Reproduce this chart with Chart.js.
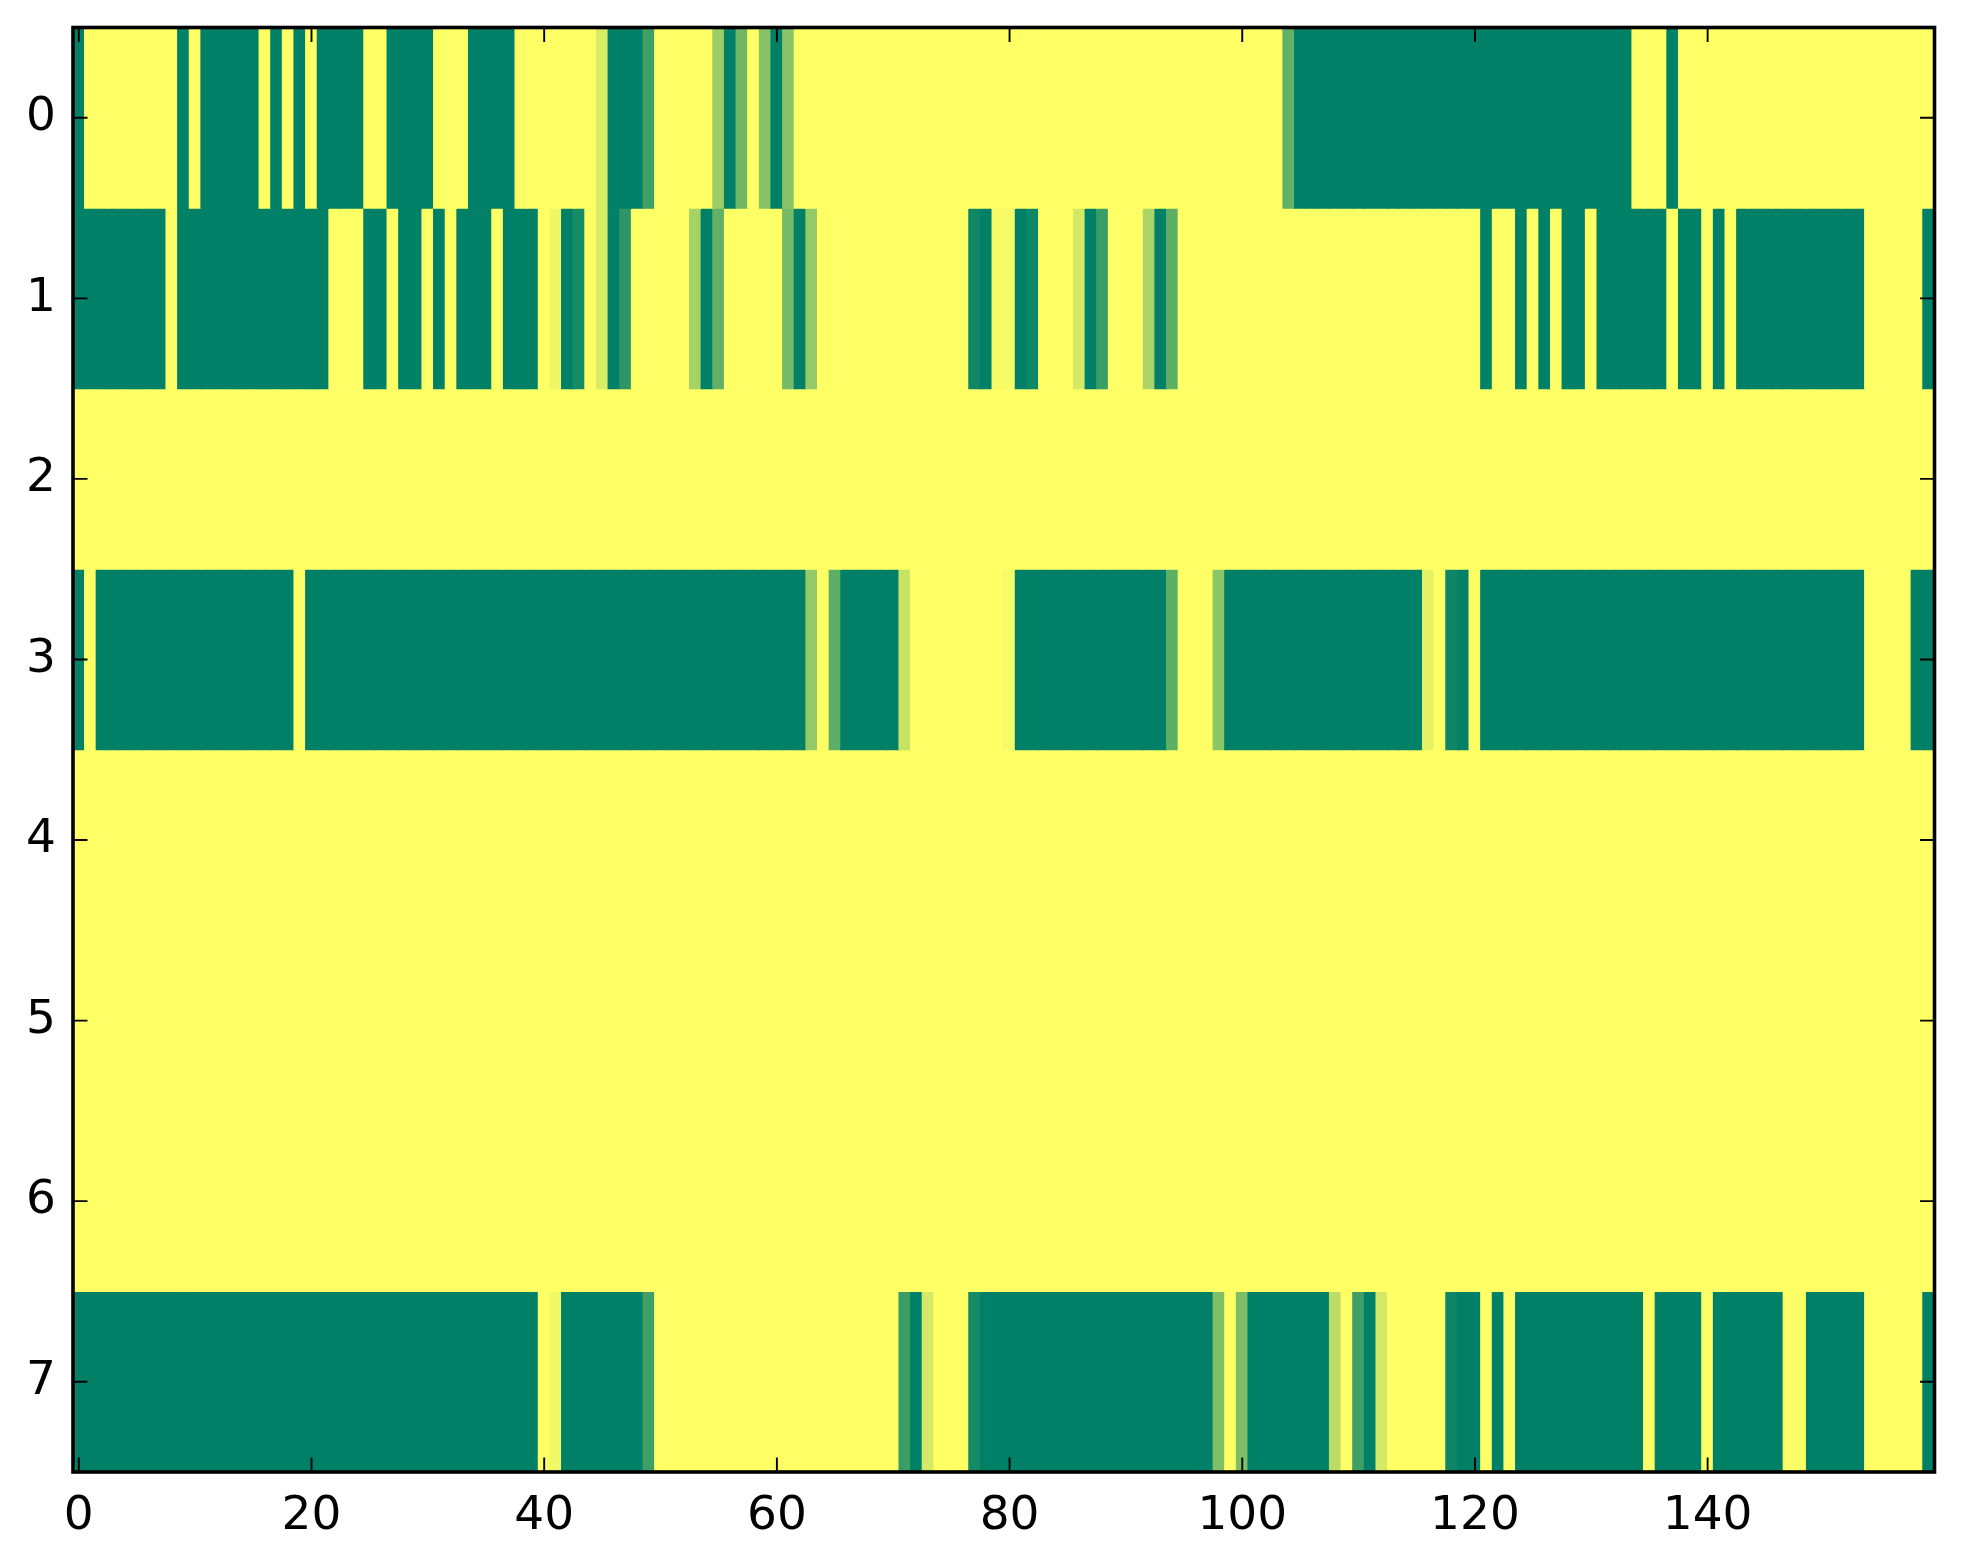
<!DOCTYPE html>
<html>
<head>
<meta charset="utf-8">
<script src="https://cdn.jsdelivr.net/npm/chart.js@4/dist/chart.umd.min.js"></script>
<style>
  html, body { margin: 0; padding: 0; background: #ffffff; }
  #wrap { width: 1963px; height: 1564px; position: relative; }
</style>
</head>
<body>
<div id="wrap"><canvas id="c" width="1963" height="1564"></canvas></div>
<script>
// Tick labels
const xTicks = [0, 20, 40, 60, 80, 100, 120, 140];
const yTicks = [0, 1, 2, 3, 4, 5, 6, 7];

// Cell values per row (0 = green, 1 = yellow), columns 0..159
const row0 = [
  0,1,1,1,1,1,1,1,1,0, 1,0,0,0,0,0,1,0,1,0,
  1,0,0,0,0,1,1,0,0,0, 0,1,1,1,0,0,0,0,1,1,
  1,1,1,1,1,0.85,0,0,0,0.25, 1,1,1,1,1,0.61,0,0.44,1,0.53,
  0,0.54,1,1,1,1,1,1,1,1, 1,1,1,1,1,1,1,1,1,1,
  1,1,1,1,1,1,1,1,1,1, 1,1,1,1,1,1,1,1,1,1,
  1,1,1,1,0.39,0,0,0,0,0, 0,0,0,0,0,0,0,0,0,0,
  0,0,0,0,0,0,0,0,0,0, 0,0,0,0,1,1,1,0,1,1,
  1,1,1,1,1,1,1,1,1,1, 1,1,1,1,1,1,1,1,1,1
];
const row1 = [
  0,0,0,0,0,0,0,0,1,0, 0,0,0,0,0,0,0,0,0,0,
  0,0,1,1,1,0,0,1,0,0, 1,0,1,0,0,0,1,0,0,0,
  1,0.94,0,0.09,1,0.85,0,0.18,1,1, 1,1,1,0.65,0,0.38,1,1,1,1,
  1,0.46,0,0.58,1,1,1,1,1,1, 1,1,1,1,1,1,1,0.06,0,0.97,
  0.97,0,0.06,1,1,1,0.83,0,0.23,1, 1,1,0.67,0,0.37,1,1,1,1,1,
  1,1,1,1,1,1,1,1,1,1, 1,1,1,1,1,1,1,1,1,1,
  1,0,1,1,0,1,0,1,0,0, 1,0,0,0,0,0,0,1,0,0,
  1,0,1,0,0,0,0,0,0,0, 0,0,0,0,1,1,1,1,1,0
];
const row2 = [
  1,1,1,1,1,1,1,1,1,1, 1,1,1,1,1,1,1,1,1,1,
  1,1,1,1,1,1,1,1,1,1, 1,1,1,1,1,1,1,1,1,1,
  1,1,1,1,1,1,1,1,1,1, 1,1,1,1,1,1,1,1,1,1,
  1,1,1,1,1,1,1,1,1,1, 1,1,1,1,1,1,1,1,1,1,
  1,1,1,1,1,1,1,1,1,1, 1,1,1,1,1,1,1,1,1,1,
  1,1,1,1,1,1,1,1,1,1, 1,1,1,1,1,1,1,1,1,1,
  1,1,1,1,1,1,1,1,1,1, 1,1,1,1,1,1,1,1,1,1,
  1,1,1,1,1,1,1,1,1,1, 1,1,1,1,1,1,1,1,1,1
];
const row3 = [
  0,1,0,0,0,0,0,0,0,0, 0,0,0,0,0,0,0,0,0,1,
  0,0,0,0,0,0,0,0,0,0, 0,0,0,0,0,0,0,0,0,0,
  0,0,0,0,0,0,0,0,0,0, 0,0,0,0,0,0,0,0,0,0,
  0,0,0,0.58,1,0.37,0,0,0,0, 0,0.78,1,1,1,1,1,1,1,1,
  0.96,0,0,0,0,0,0,0,0,0, 0,0,0,0,0.37,1,1,1,0.55,0,
  0,0,0,0,0,0,0,0,0,0, 0,0,0,0,0,0,0.9,1,0.06,0,
  1,0,0,0,0,0,0,0,0,0, 0,0,0,0,0,0,0,0,0,0,
  0,0,0,0,0,0,0,0,0,0, 0,0,0,0,1,1,1,1,0,0
];
const row4 = [
  1,1,1,1,1,1,1,1,1,1, 1,1,1,1,1,1,1,1,1,1,
  1,1,1,1,1,1,1,1,1,1, 1,1,1,1,1,1,1,1,1,1,
  1,1,1,1,1,1,1,1,1,1, 1,1,1,1,1,1,1,1,1,1,
  1,1,1,1,1,1,1,1,1,1, 1,1,1,1,1,1,1,1,1,1,
  1,1,1,1,1,1,1,1,1,1, 1,1,1,1,1,1,1,1,1,1,
  1,1,1,1,1,1,1,1,1,1, 1,1,1,1,1,1,1,1,1,1,
  1,1,1,1,1,1,1,1,1,1, 1,1,1,1,1,1,1,1,1,1,
  1,1,1,1,1,1,1,1,1,1, 1,1,1,1,1,1,1,1,1,1
];
const row5 = [
  1,1,1,1,1,1,1,1,1,1, 1,1,1,1,1,1,1,1,1,1,
  1,1,1,1,1,1,1,1,1,1, 1,1,1,1,1,1,1,1,1,1,
  1,1,1,1,1,1,1,1,1,1, 1,1,1,1,1,1,1,1,1,1,
  1,1,1,1,1,1,1,1,1,1, 1,1,1,1,1,1,1,1,1,1,
  1,1,1,1,1,1,1,1,1,1, 1,1,1,1,1,1,1,1,1,1,
  1,1,1,1,1,1,1,1,1,1, 1,1,1,1,1,1,1,1,1,1,
  1,1,1,1,1,1,1,1,1,1, 1,1,1,1,1,1,1,1,1,1,
  1,1,1,1,1,1,1,1,1,1, 1,1,1,1,1,1,1,1,1,1
];
const row6 = [
  1,1,1,1,1,1,1,1,1,1, 1,1,1,1,1,1,1,1,1,1,
  1,1,1,1,1,1,1,1,1,1, 1,1,1,1,1,1,1,1,1,1,
  1,1,1,1,1,1,1,1,1,1, 1,1,1,1,1,1,1,1,1,1,
  1,1,1,1,1,1,1,1,1,1, 1,1,1,1,1,1,1,1,1,1,
  1,1,1,1,1,1,1,1,1,1, 1,1,1,1,1,1,1,1,1,1,
  1,1,1,1,1,1,1,1,1,1, 1,1,1,1,1,1,1,1,1,1,
  1,1,1,1,1,1,1,1,1,1, 1,1,1,1,1,1,1,1,1,1,
  1,1,1,1,1,1,1,1,1,1, 1,1,1,1,1,1,1,1,1,1
];
const row7 = [
  0,0,0,0,0,0,0,0,0,0, 0,0,0,0,0,0,0,0,0,0,
  0,0,0,0,0,0,0,0,0,0, 0,0,0,0,0,0,0,0,0,0,
  1,0.95,0,0,0,0,0,0,0,0.25, 1,1,1,1,1,1,1,1,1,1,
  1,1,1,1,1,1,1,1,1,1, 1,0.23,0,0.83,1,1,1,0.08,0,0,
  0,0,0,0,0,0,0,0,0,0, 0,0,0,0,0,0,0,0,0.49,1,
  0.49,0,0,0,0,0,0,0,0.73,1, 0.25,0,0.83,1,1,1,1,1,0.06,0,
  0,1,0,1,0,0,0,0,0,0, 0,0,0,0,0,1,0,0,0,0,
  1,0,0,0,0,0,0,1,1,0, 0,0,0,0,1,1,1,1,1,0
];
const rows = [row0, row1, row2, row3, row4, row5, row6, row7];

// matplotlib "summer" colormap
function summer(v) {
  const r = Math.round(255 * v);
  const g = Math.round(255 * (0.5 + 0.5 * v));
  return 'rgb(' + r + ',' + g + ',102)';
}

const FONT = { family: 'DejaVu Sans', size: 47 };

const datasets = rows.map((vals, r) => ({
  label: 'row ' + r,
  data: vals.map((v, c) => ({ x: c, y: [r - 0.5, r + 0.5] })),
  backgroundColor: vals.map(summer),
  borderWidth: 0,
  grouped: false,
  barPercentage: 1,
  categoryPercentage: 1,
  inflateAmount: 0.6
}));

const frame = {
  id: 'frame',
  afterDraw(chart) {
    const { ctx, chartArea: a, scales } = chart;
    const x = scales.x, y = scales.y;
    const L = 14.5;
    ctx.save();
    ctx.strokeStyle = '#000';
    ctx.lineWidth = 1.9;
    ctx.beginPath();
    xTicks.forEach(v => {
      const px = x.getPixelForValue(v);
      ctx.moveTo(px, a.bottom); ctx.lineTo(px, a.bottom - L);
      ctx.moveTo(px, a.top); ctx.lineTo(px, a.top + L);
    });
    yTicks.forEach(v => {
      const py = y.getPixelForValue(v);
      ctx.moveTo(a.left, py); ctx.lineTo(a.left + L, py);
      ctx.moveTo(a.right, py); ctx.lineTo(a.right - L, py);
    });
    ctx.stroke();
    ctx.lineWidth = 3.6;
    ctx.strokeRect(a.left, a.top, a.right - a.left, a.bottom - a.top);
    ctx.restore();
  }
};

new Chart(document.getElementById('c'), {
  type: 'bar',
  data: { datasets },
  options: {
    responsive: false,
    devicePixelRatio: 1,
    animation: false,
    layout: { padding: { top: 27.5, right: 28.5, left: 0, bottom: 0 } },
    plugins: { legend: { display: false }, tooltip: { enabled: false } },
    scales: {
      x: {
        type: 'linear',
        offset: false,
        min: -0.5,
        max: 159.5,
        grid: { display: false, drawTicks: false, offset: false },
        border: { display: false },
        ticks: { font: FONT, color: '#000', padding: 17, maxRotation: 0, autoSkip: false },
        afterBuildTicks: s => { s.ticks = xTicks.map(v => ({ value: v })); },
        afterFit: s => { s.height = 92; s.paddingLeft = 0; s.paddingRight = 0; }
      },
      y: {
        type: 'linear',
        reverse: true,
        offset: false,
        min: -0.5,
        max: 7.5,
        grid: { display: false, drawTicks: false },
        border: { display: false },
        ticks: { font: FONT, color: '#000', padding: 17, autoSkip: false },
        afterBuildTicks: s => { s.ticks = yTicks.map(v => ({ value: v })); },
        afterFit: s => { s.width = 73; s.paddingTop = 0; s.paddingBottom = 0; }
      }
    }
  },
  plugins: [frame]
});
</script>
</body>
</html>
